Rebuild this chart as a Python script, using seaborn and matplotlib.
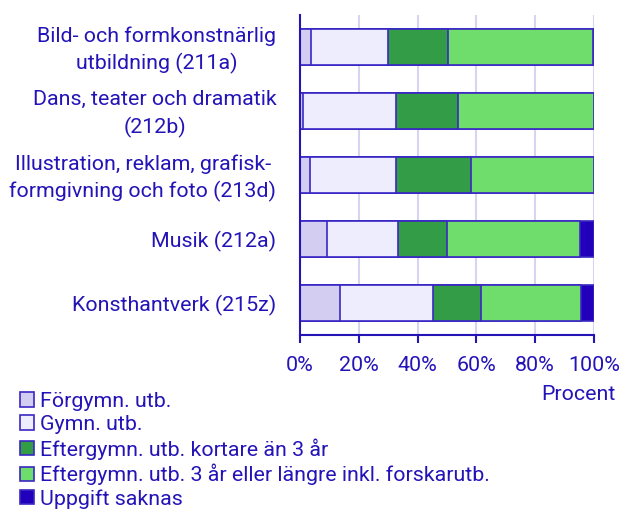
import numpy as np
import pandas as pd
import matplotlib
matplotlib.use("Agg")
import matplotlib.pyplot as plt
import matplotlib.transforms as mtransforms
from matplotlib.patches import Patch
import seaborn as sns

categories = [
    "Bild- och formkonstnärlig\nutbildning (211a)",
    "Dans, teater och dramatik\n(212b)",
    "Illustration, reklam, grafisk-\nformgivning och foto (213d)",
    "Musik (212a)",
    "Konsthantverk (215z)",
]
series_names = [
    "Förgymn. utb.",
    "Gymn. utb.",
    "Eftergymn. utb. kortare än 3 år",
    "Eftergymn. utb. 3 år eller längre inkl. forskarutb.",
    "Uppgift saknas",
]
forgymn = [3.6, 1.1, 3.4, 9.1, 13.6]
gymn = [26.4, 31.6, 29.1, 24.1, 31.6]
kort = [20.2, 20.9, 25.5, 16.8, 16.4]
lang = [49.5, 46.4, 42.0, 45.3, 34.1]
saknas = [0.3, 0.0, 0.0, 4.7, 4.3]
xticks = [0, 20, 40, 60, 80, 100]
xticklabels = ["0%", "20%", "40%", "60%", "80%", "100%"]

colors = ["#d2cdf1", "#eeedfd", "#339c46", "#6fdd6b", "#2200bb"]
edge = "#3a28c4"
text_color = "#2414b8"
grid_color = "#d6d4f1"
fs = 15.4

sns.set_theme(style="white")
plt.rcParams["font.family"] = ["Roboto", "DejaVu Sans"]

fig = plt.figure(figsize=(6.21, 5.12), dpi=100)
ax = fig.add_axes([300 / 621, 1 - 335 / 512, 294 / 621, 320 / 512])

series = [forgymn, gymn, kort, lang, saknas]
cum = np.cumsum(np.array(series), axis=0)
df = pd.DataFrame({"category": categories})
for i in range(len(series) - 1, -1, -1):
    df["val"] = cum[i]
    sns.barplot(data=df, x="val", y="category", orient="h", color=colors[i],
                saturation=1, width=0.5625, edgecolor=edge, linewidth=1.2,
                ax=ax, zorder=3)

ax.set_xlim(0, 100)
ax.set_ylim(4.5, -0.5)
ax.set_xticks(xticks)
ax.set_xticklabels(xticklabels)
for x in xticks[1:]:
    ax.axvline(x, color=grid_color, linewidth=1.5, zorder=1)

for s in ["top", "right"]:
    ax.spines[s].set_visible(False)
ax.spines["left"].set_color(text_color)
ax.spines["left"].set_linewidth(1.5)
ax.spines["bottom"].set_color(text_color)
ax.spines["bottom"].set_linewidth(1.5)
ax.spines["left"].set_zorder(5)

ax.tick_params(axis="x", colors=text_color, labelsize=fs, length=6, width=1.5,
               direction="out", pad=9, bottom=True)
ax.tick_params(axis="y", colors=text_color, labelsize=fs, length=0, pad=17)
shift = mtransforms.ScaledTranslation(0, 3 / 100, fig.dpi_scale_trans)
for lbl in ax.get_yticklabels():
    lbl.set_multialignment("center")
    lbl.set_linespacing(1.45)
    if "\n" in lbl.get_text():
        lbl.set_transform(lbl.get_transform() + shift)
ax.set_ylabel("")
ax.set_xlabel("Procent", color=text_color, fontsize=fs)
ax.xaxis.set_label_coords(1.075, -0.155)
ax.xaxis.label.set_horizontalalignment("right")

handles = [Patch(facecolor=c, edgecolor=edge, linewidth=1.2) for c in colors]
fig.legend(handles, series_names, loc="upper left",
           bbox_to_anchor=(20 / 621, 1 - 392 / 512), frameon=False,
           fontsize=fs, labelcolor=text_color, handlelength=0.65,
           handleheight=0.65, handletextpad=0.3, labelspacing=0.19,
           borderpad=0, borderaxespad=0)

fig.savefig("out.png", dpi=100)
